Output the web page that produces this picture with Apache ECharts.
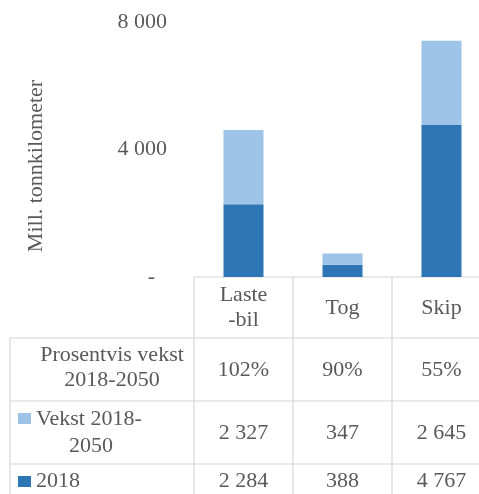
<!DOCTYPE html>
<html><head><meta charset="utf-8">
<script src="https://cdn.jsdelivr.net/npm/echarts@6/dist/echarts.min.js"></script>
<style>html,body{margin:0;padding:0;background:#fff}#c{width:479px;height:494px}</style>
</head><body><div id="c"></div>
<script>
const categories = ['Laste\n-bil', 'Tog', 'Skip'];
const values2018 = [2284, 388, 4767];
const valuesGrowth = [2327, 347, 2645];
const growthPct = ['102%', '90%', '55%'];
const yTickLabels = ['-', '4 000', '8 000'];
const seriesNames = ['2018', 'Vekst 2018-\n2050'];
const pctRowName = 'Prosentvis vekst\n2018-2050';
const yAxisTitle = 'Mill. tonnkilometer';

const FONT = '"Liberation Serif", "DejaVu Serif", serif';
const FS = 22;
const TXT = '#595959';
const LINE = '#d6d6d6';
const DARK = '#2E75B6';
const LIGHT = '#9DC3E6';
const fmt = n => String(n).replace(/\B(?=(\d{3})+(?!\d))/g, ' ');

const chart = echarts.init(document.getElementById('c'));
chart.setOption({
  animation: false,
  grid: { left: 194, top: 22, width: 297, height: 255, outerBoundsMode: 'none', containLabel: false },
  xAxis: {
    type: 'category', data: categories,
    axisLine: { show: false }, axisTick: { show: false }, axisLabel: { show: false }
  },
  yAxis: {
    type: 'value', min: 0, max: 8000, interval: 4000,
    splitLine: { show: false }, axisLine: { show: false }, axisTick: { show: false },
    axisLabel: {
      formatter: (v) => {
        const i = Math.round(v / 4000);
        return i === 0 ? '{z|' + yTickLabels[0] + '}' : yTickLabels[i];
      },
      rich: { z: { color: TXT, fontFamily: FONT, fontSize: FS, padding: [0, 12, 0, 0] } },
      color: TXT, fontFamily: FONT, fontSize: FS, margin: 27
    }
  },
  series: [
    { name: seriesNames[0], type: 'bar', stack: 't', data: values2018, barWidth: 40,
      itemStyle: { color: DARK } },
    { name: seriesNames[1], type: 'bar', stack: 't', data: valuesGrowth, barWidth: 40,
      itemStyle: { color: LIGHT } }
  ]
});

// Table under the chart
const g = [];
const cx = categories.map((c, i) => chart.convertToPixel({ xAxisIndex: 0 }, i));
const band = cx.length > 1 ? cx[1] - cx[0] : 99;
const x0 = cx[0] - band / 2, xEnd = cx[cx.length - 1] + band / 2;
const yTop = chart.convertToPixel({ yAxisIndex: 0 }, 0);
const rows = [yTop, 338, 401, 464, 527];
const leftX = 10;
const ln = (x1, y1, x2, y2) => g.push({ type: 'line', shape: { x1, y1, x2, y2 },
  style: { stroke: LINE, lineWidth: 1.2 }, silent: true });
ln(x0, rows[0], xEnd, rows[0]);
for (let r = 1; r < rows.length; r++) ln(leftX, rows[r], xEnd, rows[r]);
for (let i = 0; i <= categories.length; i++) ln(x0 + i * band, rows[0], x0 + i * band, 494);
ln(leftX, rows[1], leftX, 494);
const txt = (text, x, y, align, extra) => g.push(Object.assign({ type: 'text', x, y, silent: true,
  style: { text, fill: TXT, font: FS + 'px ' + FONT, textAlign: align || 'center', textVerticalAlign: 'middle', lineHeight: 25 } }, extra || {}));
categories.forEach((c, i) => {
  txt(c, cx[i], 308);
  txt(growthPct[i], cx[i], 370);
  txt(fmt(valuesGrowth[i]), cx[i], 433);
  txt(fmt(values2018[i]), cx[i], 481);
});
txt(pctRowName, 112, 368);
const gl = seriesNames[1].split('\n');
g.push({ type: 'rect', shape: { x: 18, y: 413, width: 13, height: 11 }, style: { fill: LIGHT }, silent: true });
txt(gl[0], 36, 419, 'left');
txt(gl[1], 91, 446);
g.push({ type: 'rect', shape: { x: 18, y: 476, width: 13, height: 11 }, style: { fill: DARK }, silent: true });
txt(seriesNames[0], 36, 481, 'left');
txt(yAxisTitle, 0, 0, 'center', { x: 36, y: 166, rotation: Math.PI / 2 });
chart.setOption({ graphic: g });
</script>
</body></html>
